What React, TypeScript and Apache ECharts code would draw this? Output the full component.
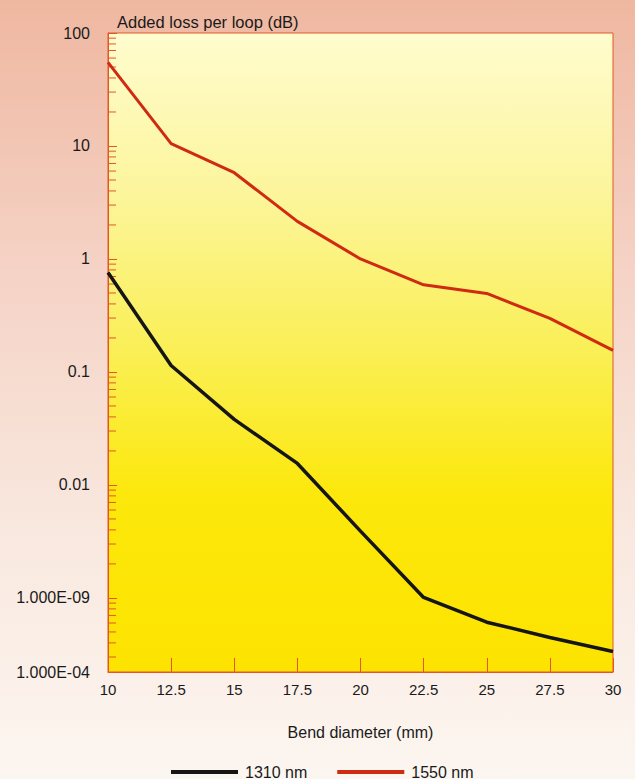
import React, { useEffect, useRef } from "react";
import * as echarts from "echarts";

const categories = ["10", "12.5", "15", "17.5", "20", "22.5", "25", "27.5", "30"];
const loss1310 = [0.76, 0.114, 0.038, 0.0155, 0.0039, 0.00101, 0.00061, 0.000447, 0.000336];
const loss1550 = [55, 10.5, 5.8, 2.15, 1.0, 0.59, 0.495, 0.298, 0.155];
const seriesNames = ["1310 nm", "1550 nm"];
const yMin = 0.000221;
const yMax = 100;
const yMinLabel = "1.000E-04";
const yDecadeLabels: Record<string, string> = {
  "2": "100",
  "1": "10",
  "0": "1",
  "-1": "0.1",
  "-2": "0.01",
  "-3": "1.000E-09",
};
const minorDecades = [-4, -3, -2, -1, 0, 1];
const minorMultipliers = [2, 3, 4, 5, 6, 7, 8, 9];
const titleText = "Added loss per loop (dB)";
const xName = "Bend diameter (mm)";

const FONT = "'Liberation Sans', Arial, Helvetica, sans-serif";
const AXIS_COLOR = "#e2562a";

const minorTickValues: number[] = [];
minorDecades.forEach((d) =>
  minorMultipliers.forEach((m) => {
    const v = m * Math.pow(10, d);
    if (v > yMin && v < yMax) minorTickValues.push(v);
  })
);

export default function App() {
  const ref = useRef<HTMLDivElement>(null);
  useEffect(() => {
    if (!ref.current) return;
    const chart = echarts.init(ref.current, undefined, { renderer: "svg" });
    chart.setOption({
      animation: false,
      backgroundColor: new echarts.graphic.LinearGradient(0, 0, 0, 1, [
        { offset: 0, color: "#efb7a0" },
        { offset: 0.35, color: "#f5d3c6" },
        { offset: 0.7, color: "#f9e9e0" },
        { offset: 1, color: "#fcf6f0" },
      ]),
      textStyle: { fontFamily: FONT },
      title: {
        text: titleText,
        left: 112,
        top: 8,
        textStyle: { fontSize: 16.5, fontWeight: "normal", color: "#1a1a1a", fontFamily: FONT },
      },
      legend: {
        left: 166,
        top: 759,
        icon: "rect",
        itemWidth: 67,
        itemHeight: 4,
        itemGap: 30,
        textStyle: { fontSize: 16, color: "#1a1a1a", fontFamily: FONT, padding: [0, 0, 0, 2] },
        data: seriesNames,
      },
      grid: {
        left: 108,
        right: 22,
        top: 33,
        bottom: 107,
        show: true,
        borderColor: AXIS_COLOR,
        borderWidth: 1,
        backgroundColor: new echarts.graphic.LinearGradient(0, 0, 0, 1, [
          { offset: 0, color: "#fffcce" },
          { offset: 0.25, color: "#fcf59c" },
          { offset: 0.5, color: "#faef55" },
          { offset: 0.72, color: "#fce80c" },
          { offset: 1, color: "#fde300" },
        ]),
      },
      xAxis: {
        type: "category",
        data: categories,
        boundaryGap: false,
        axisLine: { show: true, lineStyle: { color: AXIS_COLOR, width: 1 } },
        axisTick: { show: true, inside: true, length: 14, lineStyle: { color: AXIS_COLOR } },
        axisLabel: { fontSize: 15, color: "#1a1a1a", margin: 10, fontFamily: FONT },
        splitLine: { show: false },
        name: xName,
        nameLocation: "middle",
        nameGap: 52,
        nameTextStyle: { fontSize: 16, color: "#1a1a1a", fontFamily: FONT },
      },
      yAxis: {
        type: "log",
        logBase: 10,
        min: yMin,
        max: yMax,
        splitNumber: 6,
        axisLine: { show: true, lineStyle: { color: AXIS_COLOR, width: 1 } },
        axisTick: { show: true, inside: true, length: 9, lineStyle: { color: AXIS_COLOR } },
        minorTick: { show: false },
        splitLine: { show: false },
        minorSplitLine: { show: false },
        axisLabel: {
          fontSize: 16,
          color: "#1a1a1a",
          margin: 18,
          fontFamily: FONT,
          showMinLabel: true,
          showMaxLabel: true,
          formatter: (v: number) => {
            if (v <= yMin * 1.05) return yMinLabel;
            const e = Math.round(Math.log10(v));
            return yDecadeLabels[String(e)] ?? "";
          },
        },
      },
      series: [
        {
          type: "custom",
          name: "minorTicks",
          silent: true,
          legendHoverLink: false,
          z: 3,
          data: minorTickValues.map((v) => [0, v]),
          renderItem: (params: any, api: any) => {
            const p = api.coord([0, api.value(1)]);
            return {
              type: "line",
              shape: { x1: p[0], y1: p[1], x2: p[0] + 8, y2: p[1] },
              style: { stroke: AXIS_COLOR, lineWidth: 1 },
            };
          },
        },
        {
          name: seriesNames[0],
          type: "line",
          data: loss1310,
          showSymbol: false,
          symbol: "none",
          z: 4,
          lineStyle: { color: "#151515", width: 3.5 },
          itemStyle: { color: "#151515" },
        },
        {
          name: seriesNames[1],
          type: "line",
          data: loss1550,
          showSymbol: false,
          symbol: "none",
          z: 4,
          lineStyle: { color: "#cf2a12", width: 3 },
          itemStyle: { color: "#cf2a12" },
        },
      ],
    });
    return () => chart.dispose();
  }, []);
  return (
    <div
      ref={ref}
      style={{ position: "fixed", left: 0, top: 0, width: 635, height: 779 }}
    />
  );
}
